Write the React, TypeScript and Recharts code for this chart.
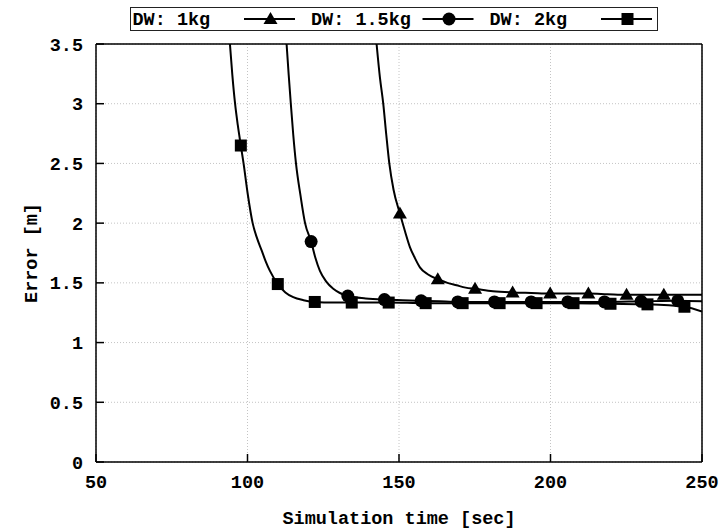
import { CartesianGrid, Line, LineChart, XAxis, YAxis } from 'recharts';

const FONT = '"Liberation Mono", "Courier New", monospace';
const FS = 18.5;

const NAMES = ['DW: 1kg', 'DW: 1.5kg', 'DW: 2kg'];
const SHAPES = ['triangle', 'circle', 'square'];

const X_TICKS = [50, 100, 150, 200, 250];
const Y_TICKS = [0, 0.5, 1, 1.5, 2, 2.5, 3, 3.5];

// DW: 1kg (triangles)
const T_1KG = [142.6, 143.7, 144.8, 145.8, 146.8, 148.2, 150.3, 152.0, 153.6, 155.2, 156.9, 159.6, 162.8, 166.0, 169.0, 172.0, 175.1, 181.0, 187.5, 193.7, 199.9, 206.2, 212.5, 218.8, 225.1, 231.2, 237.4, 243.7, 250];
const E_1KG = [3.5, 3.22, 3.0, 2.74, 2.5, 2.28, 2.08, 1.93, 1.8, 1.71, 1.63, 1.57, 1.53, 1.5, 1.48, 1.46, 1.45, 1.43, 1.42, 1.415, 1.41, 1.41, 1.41, 1.405, 1.4, 1.4, 1.4, 1.4, 1.4];
const MARK_1KG = [150.3, 162.8, 175.1, 187.5, 199.9, 212.5, 225.1, 237.4];

// DW: 1.5kg (circles)
const T_15KG = [112.9, 113.6, 114.3, 115.1, 116.0, 117.5, 119.0, 121.0, 122.4, 123.9, 126.0, 128.3, 130.5, 133.1, 139.0, 145.2, 151.2, 157.3, 163.4, 169.4, 181.5, 193.6, 205.7, 217.8, 229.9, 242.0, 250];
const E_15KG = [3.5, 3.24, 3.0, 2.74, 2.5, 2.23, 2.0, 1.846, 1.71, 1.6, 1.51, 1.45, 1.415, 1.39, 1.37, 1.36, 1.355, 1.35, 1.345, 1.34, 1.34, 1.34, 1.34, 1.34, 1.345, 1.35, 1.345];
const MARK_15KG = [121.0, 133.1, 145.2, 157.3, 169.4, 181.5, 193.6, 205.7, 217.8, 229.9, 242.0];

// DW: 2kg (squares)
const T_2KG = [94.2, 95.0, 95.9, 96.8, 97.8, 98.7, 100.1, 101.7, 103.2, 104.7, 106.0, 107.4, 110.0, 112.5, 115.1, 118.5, 122.2, 128.3, 134.4, 146.6, 158.8, 171.0, 183.2, 195.4, 207.6, 219.8, 232.0, 244.2, 250];
const E_2KG = [3.5, 3.24, 3.0, 2.82, 2.65, 2.5, 2.24, 2.0, 1.87, 1.77, 1.68, 1.6, 1.49, 1.42, 1.38, 1.355, 1.34, 1.335, 1.335, 1.335, 1.33, 1.33, 1.33, 1.33, 1.33, 1.325, 1.32, 1.3, 1.26];
const MARK_2KG = [97.8, 110.0, 122.2, 134.4, 146.6, 158.8, 171.0, 183.2, 195.4, 207.6, 219.8, 232.0, 244.2];

const toRows = (t: number[], e: number[]) => t.map((x, i) => ({ t: x, e: e[i] }));

const SERIES = [
  { name: NAMES[0], shape: SHAPES[0], data: toRows(T_1KG, E_1KG), marks: MARK_1KG },
  { name: NAMES[1], shape: SHAPES[1], data: toRows(T_15KG, E_15KG), marks: MARK_15KG },
  { name: NAMES[2], shape: SHAPES[2], data: toRows(T_2KG, E_2KG), marks: MARK_2KG },
];

function Marker({ shape, cx, cy }: { shape: string; cx: number; cy: number }) {
  if (shape === 'triangle') {
    return <polygon points={`${cx},${cy - 7} ${cx + 7},${cy + 5} ${cx - 7},${cy + 5}`} fill="#000" />;
  }
  if (shape === 'circle') return <circle cx={cx} cy={cy} r={6.5} fill="#000" />;
  return <rect x={cx - 6} y={cy - 6} width={12} height={12} fill="#000" />;
}

const makeDot = (shape: string, marks: number[]) => (props: any) => {
  const { cx, cy, payload, index } = props;
  if (!marks.includes(payload.t)) return <g key={`n${index}`} />;
  return <Marker key={`m${index}`} shape={shape} cx={cx} cy={cy} />;
};

const tickStyle = { fill: '#000', fontSize: FS, fontFamily: FONT, fontWeight: 'bold' };
const axisLine = { stroke: '#000', strokeWidth: 1.5 };

function KeyBox() {
  return (
    <div
      style={{
        position: 'absolute',
        left: 130,
        top: 7,
        width: 526,
        height: 22,
        border: '1px solid #222',
        background: '#fff',
      }}
    >
      <svg width={526} height={22} style={{ display: 'block' }}>
        {SERIES.map((s, i) => {
          const x0 = i * 178.5;
          return (
            <g key={s.name}>
              <text x={x0 + 1.5} y={17} fontFamily={FONT} fontSize={FS} fontWeight="bold" fill="#000">
                {s.name}
              </text>
              <line x1={x0 + 113} x2={x0 + 164} y1={11} y2={11} stroke="#000" strokeWidth={2} />
              <Marker shape={s.shape} cx={x0 + 139.5} cy={11} />
            </g>
          );
        })}
      </svg>
    </div>
  );
}

export default function App() {
  return (
    <div style={{ position: 'relative', width: 725, height: 529, background: '#fff' }}>
      <style>{'body{margin:0}'}</style>
      <LineChart width={725} height={529} margin={{ top: 43, right: 22, bottom: 7, left: 0 }}>
        <CartesianGrid stroke="#c4c4c4" strokeDasharray="1 2" />
        <XAxis
          type="number"
          dataKey="t"
          domain={[50, 250]}
          ticks={X_TICKS}
          allowDataOverflow
          height={60}
          tick={tickStyle}
          tickSize={-8}
          tickMargin={21}
          axisLine={axisLine}
          tickLine={axisLine}
          label={{
            value: 'Simulation time [sec]',
            position: 'insideBottom',
            offset: -2,
            style: { fill: '#000', fontSize: FS, fontFamily: FONT, fontWeight: 'bold' },
          }}
        />
        <XAxis
          xAxisId="top"
          orientation="top"
          type="number"
          domain={[50, 250]}
          ticks={X_TICKS}
          allowDataOverflow
          height={1}
          tick={false}
          tickSize={-8}
          axisLine={axisLine}
          tickLine={axisLine}
        />
        <YAxis
          type="number"
          domain={[0, 3.5]}
          ticks={Y_TICKS}
          allowDataOverflow
          width={96}
          tick={tickStyle}
          tickSize={-8}
          tickMargin={21}
          axisLine={axisLine}
          tickLine={axisLine}
          label={{
            value: 'Error [m]',
            angle: -90,
            position: 'insideLeft',
            offset: 30,
            style: { fill: '#000', fontSize: FS, fontFamily: FONT, fontWeight: 'bold', textAnchor: 'middle' },
          }}
        />
        <YAxis
          yAxisId="right"
          orientation="right"
          type="number"
          domain={[0, 3.5]}
          ticks={Y_TICKS}
          allowDataOverflow
          width={1}
          tick={false}
          tickSize={-8}
          axisLine={axisLine}
          tickLine={axisLine}
        />
        {SERIES.map((s) => (
          <Line
            key={s.name}
            data={s.data}
            dataKey="e"
            name={s.name}
            type="monotone"
            stroke="#000"
            strokeWidth={2}
            dot={makeDot(s.shape, s.marks)}
            activeDot={false}
            isAnimationActive={false}
          />
        ))}
      </LineChart>
      <KeyBox />
    </div>
  );
}
